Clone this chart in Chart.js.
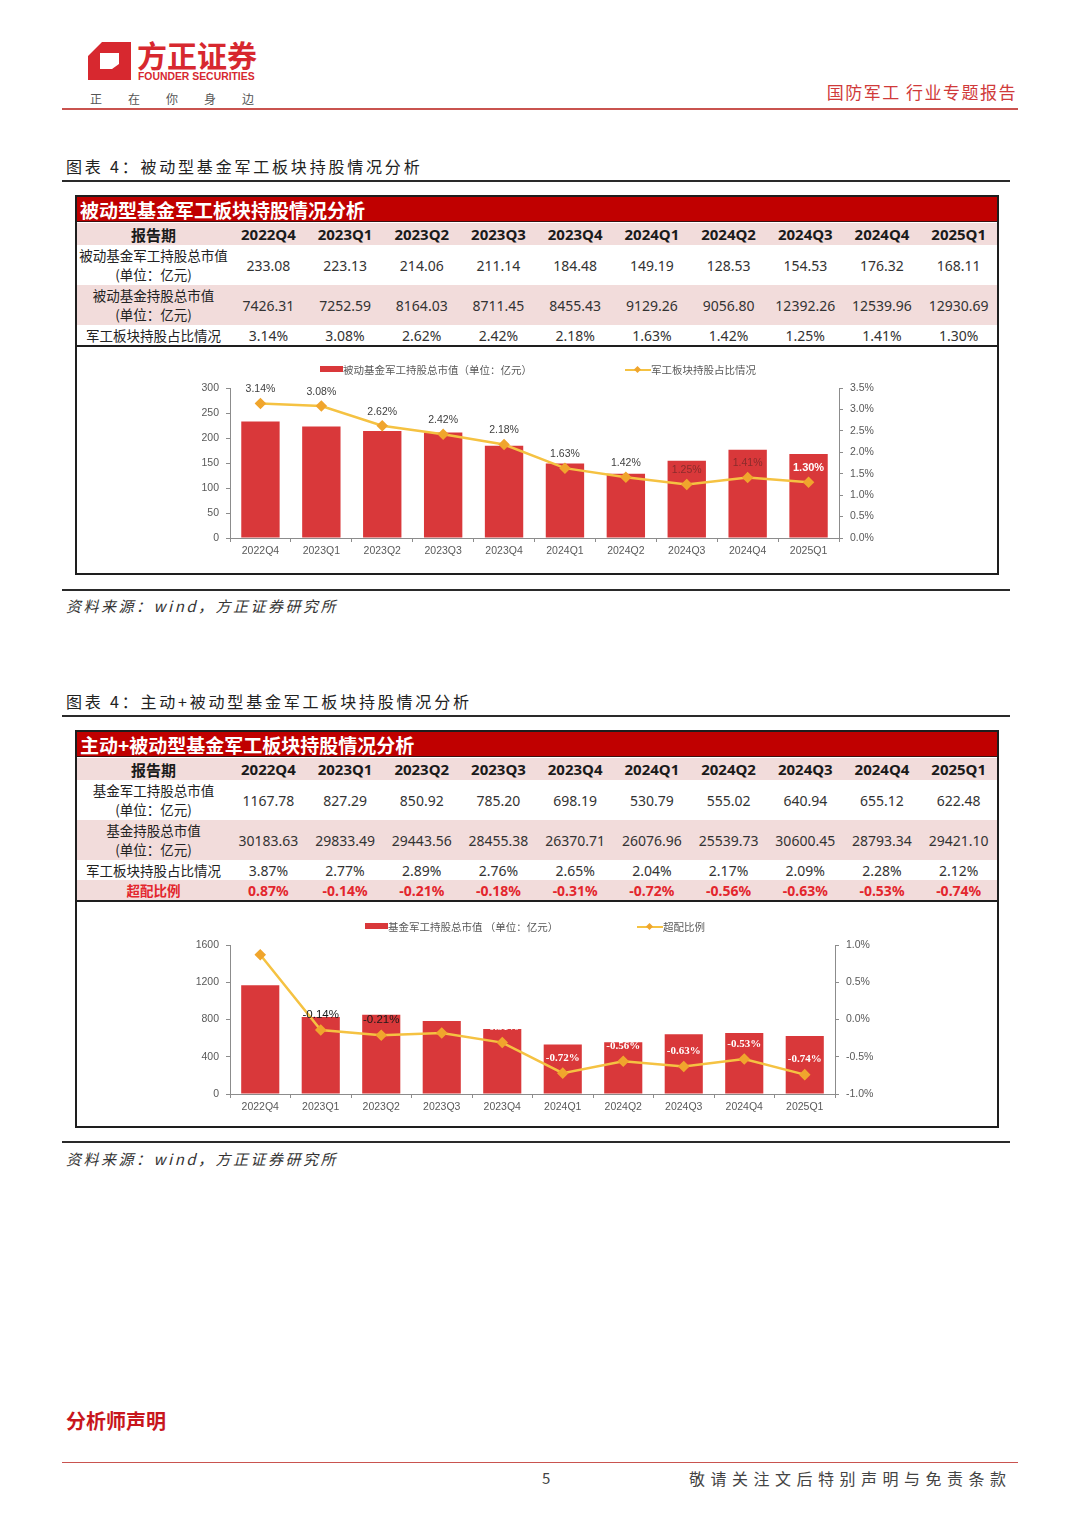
<!DOCTYPE html>
<html lang="zh-CN">
<head>
<meta charset="UTF-8">
<title>国防军工 行业专题报告</title>
<script src="https://cdn.jsdelivr.net/npm/chart.js@4.4.1/dist/chart.umd.min.js"></script>
<style>
  html, body { margin: 0; padding: 0; background: #fff; }
  #page { position: relative; width: 1080px; height: 1527px; overflow: hidden;
          font-family: "Noto Sans CJK SC", "Noto Sans", sans-serif; color: #333; }
  .abs { position: absolute; white-space: nowrap; }
  .hline { position: absolute; }
  .caption { font-size: 16px; line-height: 16px; letter-spacing: 2.8px; color: #222; }
  .source { font-size: 15px; line-height: 15px; letter-spacing: 2.5px; font-style: italic; color: #333; }
  .box { position: absolute; left: 75px; width: 920px; border: 2px solid #1e1e1e; background: #fff; }
  .tbl-title { position: absolute; left: 0; top: 0; width: 920px; height: 25px; background: #c00000;
               border-bottom: 1px solid #3a1010; color: #fff; font-weight: bold; font-size: 19px;
               line-height: 25px; padding-left: 3px; box-sizing: border-box; }
  .row { position: absolute; left: 0; width: 920px; display: flex; }
  .row .lab { width: 153px; flex: none; display: flex; flex-direction: column; justify-content: center;
              align-items: center; font-size: 13.5px; line-height: 19px; color: #222; }
  .row .val { flex: 1; display: flex; align-items: center; justify-content: center;
              font-family: "Noto Sans", sans-serif; font-size: 14px; color: #333; }
  .row.head .lab, .row.head .val { font-weight: bold; font-size: 15px; color: #1a1a1a; }
  .row.red .lab, .row.red .val { color: #e3262d; font-weight: bold; }
  .sep { position: absolute; left: 0; width: 920px; height: 2px; background: #1e1e1e; }
  .chartbox { position: absolute; left: 0; width: 920px; }
  .legend { position: absolute; font-size: 10.5px; line-height: 12px; color: #595959; white-space: nowrap; }
</style>
</head>
<body>
<div id="page">

  <!-- 页眉 -->
  <svg class="abs" style="left:88px; top:42px;" width="44" height="40" viewBox="0 0 44 40">
    <path fill="#d7282f" fill-rule="evenodd"
          d="M14 0 L43 0 L43 38 L0 38 L0 14 Z M12 11 L31 11 L31 22 L24 27 L12 27 Z"/>
  </svg>
  <div class="abs" style="left:137px; top:39px; font-size:30px; line-height:30px; font-weight:bold; color:#d7282f;">方正证券</div>
  <div class="abs" style="left:138px; top:72px; font-family:'Liberation Sans',sans-serif; font-size:10.4px; line-height:10px; font-weight:bold; color:#d7282f;">FOUNDER SECURITIES</div>
  <div class="abs" style="left:90px; top:93px; font-size:12px; line-height:12px; letter-spacing:26px; color:#555;">正在你身边</div>
  <div class="abs" style="right:63px; top:83px; font-size:17px; line-height:18px; letter-spacing:1.5px; color:#d03a3a;">国防军工 行业专题报告</div>
  <div class="hline" style="left:62px; top:108px; width:956px; height:1.5px; background:#c9534f;"></div>

  <!-- 图表 1 -->
  <div class="abs caption" style="left:66px; top:158px;">图表 4：被动型基金军工板块持股情况分析</div>
  <div class="hline" style="left:62px; top:180px; width:948px; height:2px; background:#2a2a2a;"></div>

  <div class="box" id="box1" style="top:195px; height:376px;">
    <div class="chartbox" style="top:150px; height:226px;">
      <canvas id="chart1"></canvas>
      <div class="legend" style="left:243px; top:17px;">
        <span style="display:inline-block; width:23px; height:6px; background:#d9383a; vertical-align:2px;"></span>被动基金军工持股总市值（单位：亿元）
      </div>
      <div class="legend" style="left:548px; top:17px;">
        <span style="display:inline-block; position:relative; width:26px; height:12px; vertical-align:-2px;">
          <span style="position:absolute; left:0; top:5px; width:26px; height:2px; background:#f5c242;"></span>
          <span style="position:absolute; left:10px; top:3px; width:5px; height:5px; background:#f0a52d; transform:rotate(45deg);"></span>
        </span>军工板块持股占比情况
      </div>
    </div>
  </div>

  <div class="hline" style="left:62px; top:589px; width:948px; height:2px; background:#2a2a2a;"></div>
  <div class="abs source" style="left:66px; top:598px;">资料来源：wind，方正证券研究所</div>

  <!-- 图表 2 -->
  <div class="abs caption" style="left:66px; top:693px;">图表 4：主动+被动型基金军工板块持股情况分析</div>
  <div class="hline" style="left:62px; top:715px; width:948px; height:2px; background:#2a2a2a;"></div>

  <div class="box" id="box2" style="top:730px; height:394px;">
    <div class="chartbox" style="top:170px; height:224px;">
      <canvas id="chart2"></canvas>
      <div class="legend" style="left:288px; top:19px;">
        <span style="display:inline-block; width:23px; height:6px; background:#d9383a; vertical-align:2px;"></span>基金军工持股总市值 （单位：亿元）
      </div>
      <div class="legend" style="left:560px; top:19px;">
        <span style="display:inline-block; position:relative; width:26px; height:12px; vertical-align:-2px;">
          <span style="position:absolute; left:0; top:5px; width:26px; height:2px; background:#f5c242;"></span>
          <span style="position:absolute; left:10px; top:3px; width:5px; height:5px; background:#f0a52d; transform:rotate(45deg);"></span>
        </span>超配比例
      </div>
    </div>
  </div>

  <div class="hline" style="left:62px; top:1141px; width:948px; height:2px; background:#2a2a2a;"></div>
  <div class="abs source" style="left:66px; top:1151px;">资料来源：wind，方正证券研究所</div>

  <!-- 页脚 -->
  <div class="abs" style="left:66px; top:1411px; font-size:20px; line-height:20px; font-weight:bold; color:#c8161d;">分析师声明</div>
  <div class="hline" style="left:62px; top:1462px; width:956px; height:1px; background:#c9534f;"></div>
  <div class="abs" style="left:542px; top:1470px; font-size:15px; line-height:16px; color:#444;">5</div>
  <div class="abs" style="left:689px; top:1470px; font-size:16px; line-height:16px; letter-spacing:5.5px; color:#444;">敬请关注文后特别声明与免责条款</div>
</div>

<script>
// 报告期
const quarters = ['2022Q4', '2023Q1', '2023Q2', '2023Q3', '2023Q4', '2024Q1', '2024Q2', '2024Q3', '2024Q4', '2025Q1'];

// 被动型基金
const passiveMilValue = [233.08, 223.13, 214.06, 211.14, 184.48, 149.19, 128.53, 154.53, 176.32, 168.11];
const passiveTotalValue = [7426.31, 7252.59, 8164.03, 8711.45, 8455.43, 9129.26, 9056.80, 12392.26, 12539.96, 12930.69];
const passiveRatio = [3.14, 3.08, 2.62, 2.42, 2.18, 1.63, 1.42, 1.25, 1.41, 1.30];

// 主动+被动型基金
const allMilValue = [1167.78, 827.29, 850.92, 785.20, 698.19, 530.79, 555.02, 640.94, 655.12, 622.48];
const allTotalValue = [30183.63, 29833.49, 29443.56, 28455.38, 26370.71, 26076.96, 25539.73, 30600.45, 28793.34, 29421.10];
const allRatio = [3.87, 2.77, 2.89, 2.76, 2.65, 2.04, 2.17, 2.09, 2.28, 2.12];
const overweight = [0.87, -0.14, -0.21, -0.18, -0.31, -0.72, -0.56, -0.63, -0.53, -0.74];

// 坐标轴刻度
const chart1LeftTicks = [0, 50, 100, 150, 200, 250, 300];
const chart1RightTicks = [0, 0.5, 1.0, 1.5, 2.0, 2.5, 3.0, 3.5];
const chart2LeftTicks = [0, 400, 800, 1200, 1600];
const chart2RightTicks = [-1.0, -0.5, 0, 0.5, 1.0];

const BAR_COLOR = '#d9383a';
const LINE_COLOR = '#f5c242';
const MARK_COLOR = '#f0a52d';
const AXIS_COLOR = '#8c8c8c';
const TICK_COLOR = '#595959';
const PINK = '#f2dcdb';

const num = v => v.toFixed(2);
const pct = v => v.toFixed(2) + '%';

// 表格
function buildTable(boxId, title, rows) {
    const box = document.getElementById(boxId);
    const t = document.createElement('div');
    t.className = 'tbl-title';
    t.textContent = title;
    box.appendChild(t);

    let top = 26;
    rows.forEach(r => {
        const row = document.createElement('div');
        row.className = 'row' + (r.cls ? ' ' + r.cls : '');
        row.style.top = top + 'px';
        row.style.height = r.height + 'px';
        row.style.background = r.bg;
        const lab = document.createElement('div');
        lab.className = 'lab';
        r.label.forEach(line => {
            const s = document.createElement('span');
            s.textContent = line;
            lab.appendChild(s);
        });
        row.appendChild(lab);
        r.values.forEach(v => {
            const c = document.createElement('div');
            c.className = 'val';
            c.textContent = v;
            row.appendChild(c);
        });
        box.appendChild(row);
        top += r.height;
    });

    const sep = document.createElement('div');
    sep.className = 'sep';
    sep.style.top = top + 'px';
    box.appendChild(sep);
}

buildTable('box1', '被动型基金军工板块持股情况分析', [
    { label: ['报告期'], values: quarters, bg: PINK, height: 22, cls: 'head' },
    { label: ['被动基金军工持股总市值', '(单位：亿元)'], values: passiveMilValue.map(num), bg: '#fff', height: 40 },
    { label: ['被动基金持股总市值', '(单位：亿元)'], values: passiveTotalValue.map(num), bg: PINK, height: 40 },
    { label: ['军工板块持股占比情况'], values: passiveRatio.map(pct), bg: '#fff', height: 20 }
]);

buildTable('box2', '主动+被动型基金军工板块持股情况分析', [
    { label: ['报告期'], values: quarters, bg: PINK, height: 22, cls: 'head' },
    { label: ['基金军工持股总市值', '(单位：亿元)'], values: allMilValue.map(num), bg: '#fff', height: 40 },
    { label: ['基金持股总市值', '(单位：亿元)'], values: allTotalValue.map(num), bg: PINK, height: 40 },
    { label: ['军工板块持股占比情况'], values: allRatio.map(pct), bg: '#fff', height: 20 },
    { label: ['超配比例'], values: overweight.map(pct), bg: PINK, height: 20, cls: 'red' }
]);

// 折线数据标签
const pointLabels = {
    id: 'pointLabels',
    afterDatasetsDraw(chart, args, opts) {
        const ctx = chart.ctx;
        const meta = chart.getDatasetMeta(opts.datasetIndex);
        const values = chart.data.datasets[opts.datasetIndex].data;
        meta.data.forEach((pt, i) => {
            const st = opts.styles[i];
            if (!st) return;
            ctx.save();
            ctx.font = st.font;
            ctx.fillStyle = st.color;
            ctx.textAlign = 'center';
            ctx.textBaseline = 'middle';
            ctx.fillText(pct(values[i]), pt.x, pt.y - opts.offset);
            ctx.restore();
        });
    }
};

function makeChart(id, cfg) {
    const first = a => a[0];
    const last = a => a[a.length - 1];
    return new Chart(document.getElementById(id), {
        data: {
            labels: quarters,
            datasets: [
                {
                    type: 'line', label: cfg.lineLabel, data: cfg.line, yAxisID: 'y1', order: 0,
                    borderColor: LINE_COLOR, borderWidth: 2.5, tension: 0,
                    pointStyle: 'rectRot', pointRadius: 4, pointBackgroundColor: MARK_COLOR, pointBorderColor: MARK_COLOR
                },
                {
                    type: 'bar', label: cfg.barLabel, data: cfg.bars, yAxisID: 'y', order: 1,
                    backgroundColor: BAR_COLOR, categoryPercentage: 1, barPercentage: 0.63
                }
            ]
        },
        options: {
            responsive: true,
            maintainAspectRatio: false,
            animation: false,
            layout: { padding: { top: cfg.top, left: 0, right: 0, bottom: 0 } },
            plugins: {
                legend: { display: false },
                tooltip: { enabled: false },
                pointLabels: { datasetIndex: 0, offset: cfg.labelOffset, styles: cfg.labelStyles }
            },
            scales: {
                x: {
                    grid: { drawOnChartArea: false, tickLength: 4, color: AXIS_COLOR },
                    border: { color: AXIS_COLOR },
                    ticks: { color: TICK_COLOR, font: { family: 'Liberation Sans', size: 10.5 }, padding: 3, maxRotation: 0 },
                    afterFit: s => { s.height = cfg.xHeight; }
                },
                y: {
                    position: 'left',
                    min: first(cfg.leftTicks), max: last(cfg.leftTicks),
                    ticks: { stepSize: cfg.leftTicks[1] - cfg.leftTicks[0], color: TICK_COLOR, font: { family: 'Liberation Sans', size: 10.5 }, padding: 7,
                             callback: v => String(v) },
                    grid: { drawOnChartArea: false, tickLength: 4, color: AXIS_COLOR },
                    border: { color: AXIS_COLOR },
                    afterFit: s => { s.width = cfg.leftWidth; }
                },
                y1: {
                    position: 'right',
                    min: first(cfg.rightTicks), max: last(cfg.rightTicks),
                    ticks: { stepSize: cfg.rightTicks[1] - cfg.rightTicks[0], color: TICK_COLOR, font: { family: 'Liberation Sans', size: 10.5 }, padding: 7,
                             callback: v => v.toFixed(1) + '%' },
                    grid: { drawOnChartArea: false, tickLength: 4, color: AXIS_COLOR },
                    border: { color: AXIS_COLOR },
                    afterFit: s => { s.width = cfg.rightWidth; }
                }
            }
        },
        plugins: [pointLabels]
    });
}

const dark = { font: '10.5px "Liberation Sans"', color: '#404040' };
const onBar = { font: '10.5px "Liberation Sans"', color: '#8a2c2c' };
const whiteBold = { font: 'bold 11px "Liberation Sans"', color: '#ffffff' };

makeChart('chart1', {
    bars: passiveMilValue, line: passiveRatio,
    barLabel: '被动基金军工持股总市值（单位：亿元）', lineLabel: '军工板块持股占比情况',
    leftTicks: chart1LeftTicks, rightTicks: chart1RightTicks,
    top: 41, xHeight: 35, leftWidth: 153, rightWidth: 158, labelOffset: 14,
    labelStyles: [dark, dark, dark, dark, dark, dark, dark, onBar, onBar, whiteBold]
});

const dark2 = { font: '11.5px "Liberation Sans"', color: '#1a1a1a' };
const white2 = { font: 'bold 11px "Liberation Serif"', color: '#ffffff' };

makeChart('chart2', {
    bars: allMilValue, line: overweight,
    barLabel: '基金军工持股总市值 （单位：亿元）', lineLabel: '超配比例',
    leftTicks: chart2LeftTicks, rightTicks: chart2RightTicks,
    top: 43, xHeight: 32, leftWidth: 153, rightWidth: 162, labelOffset: 15,
    labelStyles: [null, dark2, dark2, white2, white2, white2, white2, white2, white2, white2]
});
</script>
</body>
</html>
